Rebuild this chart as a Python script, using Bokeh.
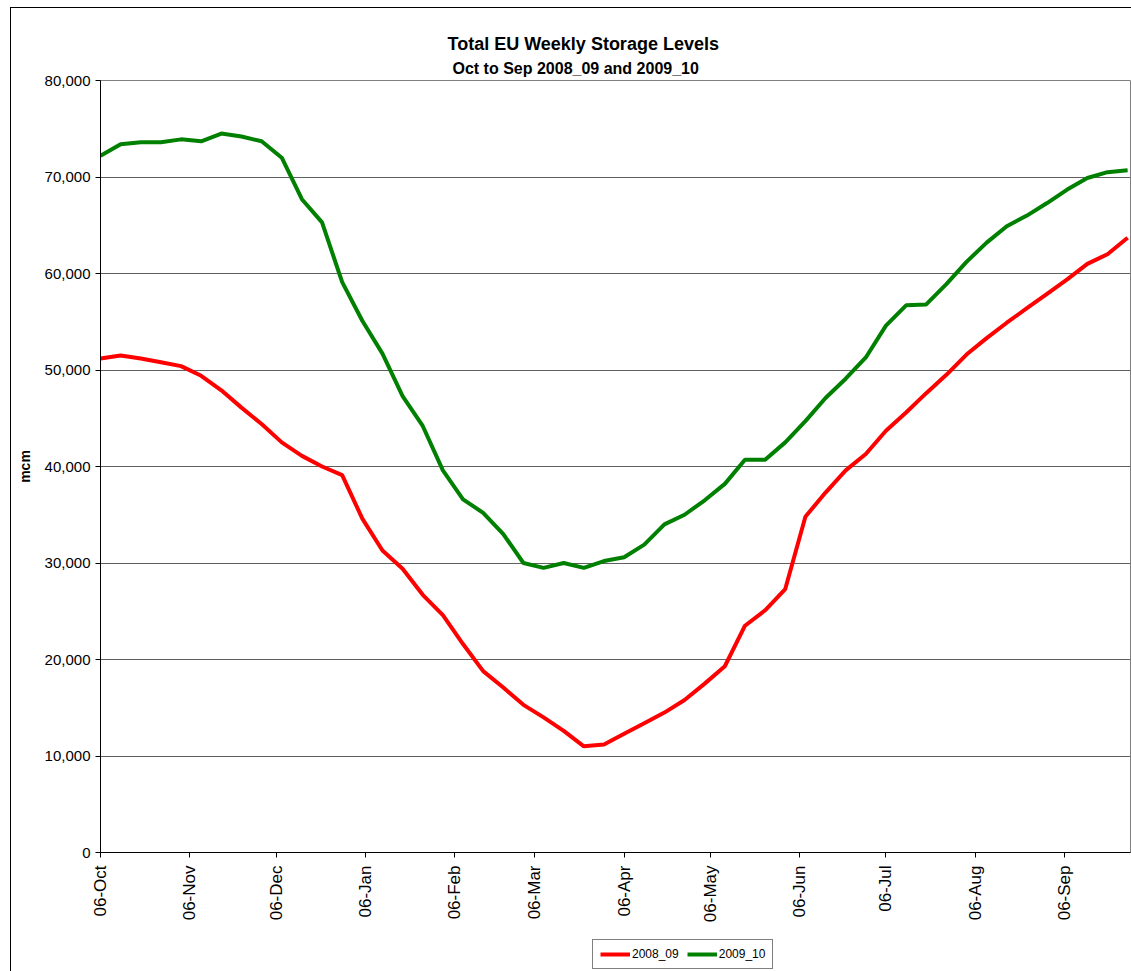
import math
import pandas as pd
from bokeh.plotting import figure
from bokeh.layouts import column
from bokeh.models import (Legend, LegendItem, FixedTicker, DatetimeTickFormatter,
                          NumeralTickFormatter, Range1d, ColumnDataSource, Title)
from bokeh.embed import file_html
from bokeh.resources import INLINE

# ---- data (mcm, weekly) ----
first_week = "2008-10-06"
n_weeks = 52
series_2008_09 = [51200, 51500, 51200, 50800, 50400, 49400, 47900, 46100, 44400, 42500,
                  41100, 40000, 39100, 34600, 31300, 29400, 26700, 24600, 21600, 18800,
                  17100, 15300, 14000, 12600, 11000, 11200, 12300, 13400, 14500, 15800,
                  17500, 19300, 23500, 25100, 27300, 34800, 37300, 39600, 41300, 43700,
                  45600, 47600, 49500, 51600, 53300, 54900, 56400, 57900, 59400, 61000,
                  62000, 63700]
series_2009_10 = [72200, 73400, 73600, 73600, 73900, 73700, 74500, 74200, 73700, 72000,
                  67700, 65300, 59100, 55100, 51700, 47300, 44200, 39600, 36600, 35200,
                  33000, 30000, 29500, 30000, 29500, 30200, 30600, 31900, 34000, 35000,
                  36500, 38200, 40700, 40700, 42500, 44700, 47100, 49100, 51300, 54600,
                  56700, 56800, 58900, 61200, 63200, 64900, 66000, 67300, 68700, 69900,
                  70500, 70700]
series_names = ["2008_09", "2009_10"]
series_colors = ["#FF0000", "#008000"]
month_ticks = ["2008-10-06", "2008-11-06", "2008-12-06", "2009-01-06", "2009-02-06",
               "2009-03-06", "2009-04-06", "2009-05-06", "2009-06-06", "2009-07-06",
               "2009-08-06", "2009-09-06"]
y_ticks = [0, 10000, 20000, 30000, 40000, 50000, 60000, 70000, 80000]
x_start = "2008-10-06"
x_end = "2009-09-29"
title_1 = "Total EU Weekly Storage Levels"
title_2 = "Oct to Sep 2008_09 and 2009_10"
y_title = "mcm"

dates = pd.date_range(first_week, periods=n_weeks, freq="7D")
source = ColumnDataSource(data=dict(date=dates, a=series_2008_09, b=series_2009_10))

FONT = "Liberation Sans"

p = figure(width=1120, height=930, x_axis_type="datetime",
           x_range=Range1d(start=pd.Timestamp(x_start), end=pd.Timestamp(x_end)),
           y_range=Range1d(start=0, end=80000),
           output_backend="svg", toolbar_location=None,
           min_border_left=89, min_border_right=1, min_border_top=72, min_border_bottom=86)
p.background_fill_color = "white"
p.border_fill_color = "white"
p.outline_line_color = "#808080"

p.line("date", "a", source=source, line_color=series_colors[0], line_width=4)
p.line("date", "b", source=source, line_color=series_colors[1], line_width=4)

# axes
tick_ms = [pd.Timestamp(t).value // 10**6 for t in month_ticks]
p.xaxis.ticker = FixedTicker(ticks=tick_ms)
fmt = "%d-%b"
p.xaxis.formatter = DatetimeTickFormatter(microseconds=fmt, milliseconds=fmt, seconds=fmt,
                                          minsec=fmt, minutes=fmt, hourmin=fmt, hours=fmt,
                                          days=fmt, months=fmt, years=fmt)
p.xaxis.major_label_orientation = math.pi / 2
p.xaxis.major_label_text_font = FONT
p.xaxis.major_label_text_font_size = "17px"
p.xaxis.major_label_text_color = "black"
p.xaxis.major_label_standoff = 8
p.yaxis.ticker = FixedTicker(ticks=y_ticks)
p.yaxis.formatter = NumeralTickFormatter(format="0,0")
p.yaxis.major_label_text_font = FONT
p.yaxis.major_label_text_font_size = "15px"
p.yaxis.major_label_text_color = "black"
p.yaxis.major_label_standoff = 5
p.yaxis.axis_label = y_title
p.yaxis.axis_label_text_font = FONT
p.yaxis.axis_label_text_font_style = "bold"
p.yaxis.axis_label_text_font_size = "14px"
p.yaxis.axis_label_text_color = "black"
p.yaxis.axis_label_standoff = 9
for ax in (p.xaxis, p.yaxis):
    ax.axis_line_color = "black"
    ax.axis_line_width = 1
    ax.major_tick_line_color = "black"
    ax.major_tick_out = 5
    ax.major_tick_in = 0
    ax.minor_tick_line_color = None

p.xgrid.grid_line_color = None
p.ygrid.ticker = FixedTicker(ticks=y_ticks)
p.ygrid.grid_line_color = "#606060"
p.ygrid.grid_line_width = 1

# titles (first added sits nearest the plot)
p.add_layout(Title(text=title_2, align="left", offset=352, standoff=7,
                   text_font=FONT, text_font_style="bold", text_font_size="16px",
                   text_color="black"), "above")
p.add_layout(Title(text=title_1, align="left", offset=347, standoff=1,
                   text_font=FONT, text_font_style="bold", text_font_size="18px",
                   text_color="black"), "above")

# legend strip below the chart (keys drawn from off-range stubs)
leg = figure(width=1120, height=33, x_range=Range1d(0, 1), y_range=Range1d(0, 1),
             output_backend="svg", toolbar_location=None,
             min_border_left=0, min_border_right=0, min_border_top=0, min_border_bottom=0)
leg.axis.visible = False
leg.grid.visible = False
leg.outline_line_color = None
leg.background_fill_color = "white"
leg.border_fill_color = "white"
k1 = leg.line(x=[-5, -4], y=[-5, -4], line_color=series_colors[0], line_width=4)
k2 = leg.line(x=[-5, -4], y=[-5, -4], line_color=series_colors[1], line_width=4)
legend = Legend(items=[LegendItem(label=series_names[0], renderers=[k1]),
                       LegendItem(label=series_names[1], renderers=[k2])],
                orientation="horizontal", location=(492, 2),
                border_line_color="black", border_line_width=1,
                background_fill_color="white", background_fill_alpha=1,
                label_text_font=FONT, label_text_font_size="12px",
                label_text_color="black",
                glyph_width=30, glyph_height=12, label_standoff=2, spacing=8,
                padding=7, margin=0, label_height=14)
leg.add_layout(legend)

layout = column(p, leg, spacing=0)
layout.styles = {"margin-left": "10px", "margin-top": "7px",
                 "border-left": "1px solid black", "border-top": "1px solid black"}

open("out.html", "w").write(file_html(layout, INLINE))
